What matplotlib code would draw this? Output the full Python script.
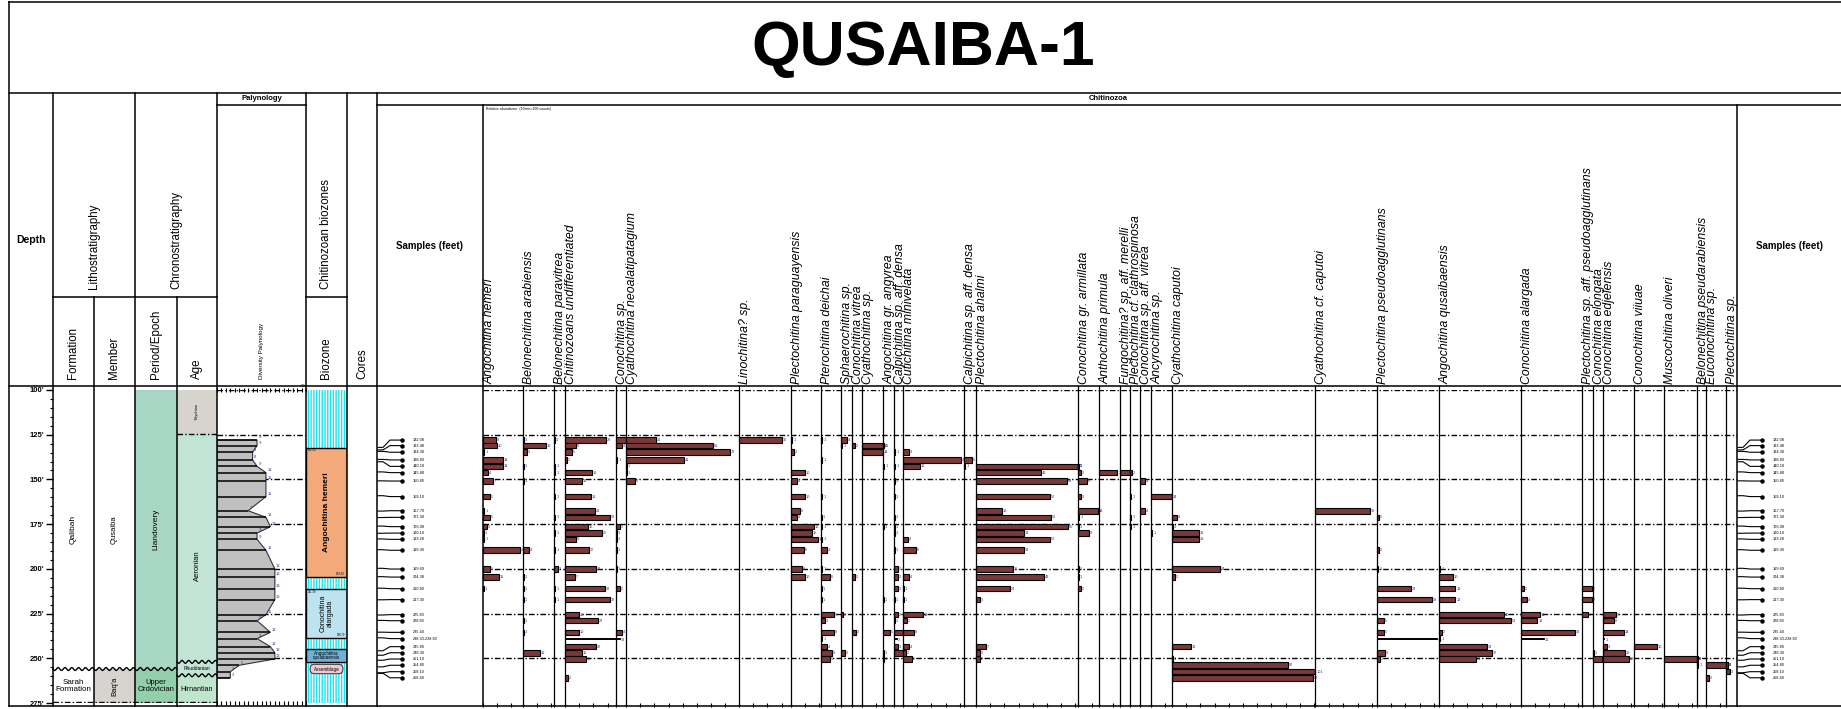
import numpy as np
import matplotlib
matplotlib.use("Agg")
import matplotlib.pyplot as plt
from matplotlib.patches import Rectangle, Polygon, FancyBboxPatch
from matplotlib.ticker import MultipleLocator

plt.rcParams['font.family'] = ['Liberation Sans', 'DejaVu Sans']

# ---------------- data ----------------
sample_labels = ['132.08', '133.48', '134.30', '138.80', '140.10', '145.80', '150.80',
                 '159.10', '167.70', '171.30', '176.08', '180.10', '183.28', '189.30',
                 '199.69', '204.38', '210.80', '217.30', '225.80', '228.80', '235.40',
                 '238.30-238.80', '245.80', '248.30', '251.10', '254.80', '258.10', '258.40']
sample_depth = [132.08, 133.48, 134.30, 138.80, 140.10, 145.80, 150.80, 159.10, 167.70,
                171.30, 176.08, 180.10, 183.28, 189.30, 199.69, 204.38, 210.80, 217.30,
                225.80, 228.80, 235.40, 238.55, 245.80, 248.30, 251.10, 254.80, 258.10, 258.40]
# depth at which each sample row is drawn (rows are spread apart on the chart)
row_depth = [128.0, 131.1, 134.8, 139.1, 142.7, 146.2, 150.9, 159.6, 167.5, 171.2, 176.4,
             180.0, 183.5, 189.6, 200.1, 204.6, 211.1, 217.2, 225.6, 229.0, 235.5, 239.0,
             243.5, 246.9, 250.4, 253.9, 257.5, 260.9]
diversity = [9, 9, 8, 8, 9, 11, 11, 11, 7, 11, 12, 9, 9, 11, 13, 13, 13, 13, 11, 9, 12, 9,
             12, 13, 13, 5, 3, 3]

depth_ticks = [100, 125, 150, 175, 200, 225, 250, 275]

species = ['Angochitina hemeri', 'Belonechitina arabiensis', 'Belonechitina paravitrea',
           'Chitinozoans undifferentiated', 'Conochitina sp.', 'Cyathochitina neoalatipatagium',
           'Linochitina? sp.', 'Plectochitina paraguayensis', 'Pterochitina deichai',
           'Sphaerochitina sp.', 'Conochitina vitrea', 'Cyathochitina sp.',
           'Angochitina gr. angyrea', 'Calpichitina sp. aff. densa', 'Cutichitina minivelata',
           'Calpichitina sp. aff. densa', 'Plectochitina ahalmi', 'Conochitina gr. armillata',
           'Anthochitina primula', 'Fungochitina? sp. aff. merelli',
           'Plectochitina cf. clathrospinosa', 'Conochitina sp. aff. vitrea', 'Ancyrochitina sp.',
           'Cyathochitina caputoi', 'Cyathochitina cf. caputoi', 'Plectochitina pseudoagglutinans',
           'Angochitina qusaibaensis', 'Conochitina alargada',
           'Plectochitina sp. aff. pseudoagglutinans', 'Conochitina elongata',
           'Conochitina edjelensis', 'Conochitina viiuae', 'Muscochitina oliveri',
           'Belonechitina pseudarabiensis', 'Euconochitina sp.', 'Plectochitina sp.']

# counts per species: {sample row: relative abundance}
counts = [
    {0: 9, 1: 10, 2: 1, 3: 14, 4: 14, 5: 3.5, 6: 7, 7: 5, 8: 1, 9: 5, 10: 3, 11: 0.6, 12: 1,
     13: 26, 14: 5, 15: 11, 16: 0.5},
    {0: 0.6, 1: 16, 2: 3, 4: 0.6, 6: 0.4, 13: 4, 15: 0.4, 16: 0.4, 17: 0.4, 19: 0.4, 20: 0.4,
     23: 12},
    {0: 0.6, 4: 1, 5: 1, 7: 1, 9: 1, 11: 1, 13: 1, 14: 3, 16: 1, 17: 1},
    {0: 29, 1: 8, 2: 5, 3: 1.5, 5: 19, 6: 12, 7: 18, 8: 21, 9: 32, 10: 16, 11: 26, 12: 8,
     13: 17, 14: 22, 15: 7, 16: 28, 17: 32, 18: 10, 19: 23, 20: 10, 22: 22, 23: 12, 24: 15,
     27: 2},
    {0: 7, 1: 4, 3: 1, 10: 3, 11: 0.7, 12: 0.7, 13: 0.7, 14: 0.7, 16: 2.5, 20: 4.5},
    {0: 21, 1: 61, 2: 73, 3: 41, 4: 0.5, 5: 0.5, 6: 6},
    {0: 30},
    {0: 1, 2: 2.3, 5: 10, 6: 4.5, 7: 10, 8: 6, 9: 4.5, 10: 16, 11: 15, 12: 19, 13: 9, 14: 8,
     15: 10},
    {0: 1, 3: 1, 7: 1, 9: 0.5, 10: 1, 12: 1, 13: 4, 14: 1, 15: 6, 16: 0.5, 17: 0.5, 18: 9,
     19: 3, 20: 9, 21: 1, 22: 4, 23: 8, 24: 6},
    {0: 4, 1: 1, 18: 1.5, 23: 3},
    {1: 2, 15: 2, 20: 2.5},
    {1: 14.5, 2: 14.5},
    {1: 1, 4: 1, 10: 0.5, 17: 0.5, 20: 5, 23: 0.5, 24: 0.5},
    {2: 1, 4: 1, 6: 0.7, 7: 0.7, 9: 0.7, 10: 0.7, 11: 0.7, 13: 0.7, 14: 2.5, 15: 2.5, 16: 3,
     17: 0.7, 18: 2.5, 19: 0.7, 20: 7, 22: 3, 23: 6},
    {2: 4, 3: 41, 4: 12, 12: 3.5, 13: 9, 15: 4.5, 16: 0.5, 17: 0.5, 18: 14, 19: 2.5, 20: 8,
     22: 4, 23: 2, 24: 6},
    {3: 5.5, 4: 1},
    {4: 72, 5: 46, 6: 64, 7: 52, 8: 18, 9: 53, 10: 65, 11: 34, 12: 52, 13: 34, 14: 26, 15: 48,
     16: 24, 17: 3, 22: 7, 23: 2.5, 24: 2.5},
    {4: 0.5, 5: 2.3, 6: 6, 7: 2.3, 8: 14.3, 9: 1, 10: 0.7, 11: 8, 14: 0.7, 15: 0.7, 16: 2.3},
    {5: 13},
    {5: 7},
    {5: 1.5, 7: 1, 9: 1, 10: 1},
    {6: 3.5, 8: 3.5},
    {7: 14.5, 11: 1},
    {9: 3.5, 10: 0.7, 11: 19, 12: 19, 14: 33.5, 15: 2.3, 22: 13.4, 24: 0.5, 25: 82, 26: 101,
     27: 99},
    {8: 38.5},
    {9: 1.5, 13: 1.5, 14: 1, 16: 24, 17: 39, 19: 4.7, 20: 4.7, 23: 5.6, 24: 2.3},
    {14: 1, 15: 10, 16: 11.5, 17: 11.5, 18: 46, 19: 51, 20: 2.3, 21: 1, 22: 34, 23: 37, 24: 26},
    {16: 2, 17: 4, 18: 13.6, 19: 11.5, 20: 38},
    {16: 7, 17: 7, 18: 4},
    {23: 0.5, 24: 6.6},
    {18: 9, 19: 8, 20: 14.5, 22: 3, 23: 15.7, 24: 18},
    {22: 16},
    {24: 23},
    {24: 0.5, 25: 1},
    {25: 14.5, 27: 2},
    {25: 1.5, 26: 2.6},
]
# the 238.30-238.80 range sample, drawn as thin open bars: {species index: count}
range_row = 21
range_counts = {3: 38.5, 13: 2, 25: 42, 27: 16, 30: 1}

formation_units = [('Qalibah', 100, 256), ('Sarah\nFormation', 256, 275)]
member_units = [('Qusaiba', 100, 256), ("Baq'a", 256, 275)]
period_units = [('Llandovery', 100, 256), ('Upper\nOrdovician', 256, 275)]
age_units = [('Telychian', 100, 124.5), ('Aeronian', 124.5, 252), ('Rhuddanian', 252, 259.5),
             ('Hirnantian', 259.5, 275)]
biozones = [('Angochitina hemeri', 132.2, 204.3), ('Conochitina\nalargada', 211.3, 238.7),
            ('Angochitina\nqusaibaensis', 244.8, 252.2), ('Assemblage', 253.4, 258.6)]

# ---------------- layout ----------------
W, H = 1841, 709
TOP, BOT = 390, 703            # pixel rows of 100 ft and 275 ft
HEAD_TOP, HEAD_ROW, HEAD_MID, HEAD_BOT, FRAME_BOT = 93, 105, 297, 386, 706
SCALE = 1.42                   # pixels per count in the chitinozoa columns
col_x = [9, 53, 94, 135, 177, 217, 306, 347, 377, 483]
chit_x = [483, 523, 554, 565, 616, 626, 739, 791, 821, 841, 852, 862, 883, 894, 903, 964,
          976, 1078, 1099, 1120, 1130, 1140, 1151, 1172, 1315, 1377, 1439, 1521, 1582, 1593,
          1603, 1634, 1664, 1697, 1706, 1726, 1737]
BAR = '#7b3838'
LABEL_C = '#2b3c96'
grid_style = dict(colors='black', linewidth=1.0, linestyles=[(0, (4, 1.6, 1, 1.6))])

fig = plt.figure(figsize=(W / 100, H / 100), dpi=100)


def add_ax(x0, x1, y0=TOP, y1=BOT, z=0):
    return fig.add_axes([x0 / W, 1 - y1 / H, (x1 - x0) / W, (y1 - y0) / H], zorder=z)


def depth_ax(x0, x1, xmax=1.0):
    ax = add_ax(x0, x1)
    ax.set_xlim(0, xmax)
    ax.set_ylim(275, 100)
    ax.set_axis_off()
    return ax


def wavy(ax, depth, xmax=1.0, n=6):
    xx = np.linspace(0, xmax, 200)
    ax.plot(xx, depth + 0.8 * np.sin(2 * np.pi * n * xx / xmax), color='black', lw=1.0,
            zorder=4, clip_on=False)


# depth scale
dax = add_ax(53, 54)
dax.set_ylim(275, 100)
dax.set_frame_on(False)
dax.xaxis.set_visible(False)
dax.set_yticks(depth_ticks)
dax.set_yticklabels([f"{d}'" for d in depth_ticks], fontsize=5.5, fontweight='bold')
dax.yaxis.set_minor_locator(MultipleLocator(5))
dax.tick_params(axis='y', which='major', length=5, width=1.0, pad=1)
dax.tick_params(axis='y', which='minor', length=2.5, width=0.8)

# lithostratigraphy / chronostratigraphy
fax = depth_ax(53, 94)
for name, top, base in formation_units:
    rot = 90 if base - top > 50 else 0
    fax.text(0.5, (top + base) / 2, name, rotation=rot, ha='center', va='center',
             fontsize=6 if rot else 5.8, linespacing=0.9)
wavy(fax, 256, n=6)

max_ = depth_ax(94, 135)
for (name, top, base), fc in zip(member_units, ['white', '#d7d3cd']):
    max_.add_patch(Rectangle((0, top), 1, base - top, facecolor=fc, lw=0))
    max_.text(0.5, (top + base) / 2, name, rotation=90, ha='center', va='center', fontsize=5.5)
wavy(max_, 256, n=6)

pex = depth_ax(135, 177)
for (name, top, base), fc in zip(period_units, ['#a8d6c5', '#93cfaa']):
    pex.add_patch(Rectangle((0, top), 1, base - top, facecolor=fc, lw=0))
    rot = 90 if base - top > 50 else 0
    pex.text(0.5, (top + base) / 2, name, rotation=rot, ha='center', va='center',
             fontsize=6 if rot else 5.5, linespacing=0.9)
wavy(pex, 256, n=6)

aex = depth_ax(177, 217)
for (name, top, base), fc in zip(age_units, ['#d7d3cd', '#c1e4d6', '#c4e6d8', '#bfe6cd']):
    aex.add_patch(Rectangle((0, top), 1, base - top, facecolor=fc, lw=0))
    if base - top > 20:
        aex.text(0.5, (top + base) / 2 + (10 if name == 'Aeronian' else 0), name, rotation=90,
                 ha='center', va='center', fontsize=5.5 if name == 'Aeronian' else 3)
    else:
        aex.text(0.5, (top + base) / 2, name, ha='center', va='center',
                 fontsize=3.5 if base - top < 10 else 5)
aex.hlines([124.5], 0, 1, **grid_style)
wavy(aex, 252, n=6)
wavy(aex, 259.5, n=6)
strat = depth_ax(53, 217)
strat.hlines([274.2], 0, 1, **grid_style)

# palynology diversity
pax = add_ax(217, 306)
pax.set_xlim(0, 20)
pax.set_ylim(275, 100)
pax.set_frame_on(False)
pax.yaxis.set_visible(False)
pax.xaxis.set_ticks_position('both')
pax.set_xticks(range(0, 21))
pax.tick_params(axis='x', which='both', direction='inout', length=3, width=0.8,
                labelbottom=False, labeltop=False)
pax.hlines(depth_ticks[:-1], 0, 20, zorder=0, **grid_style)
verts = [(0, row_depth[0])] + list(zip(diversity, row_depth)) + [(0, row_depth[-1])]
pax.add_patch(Polygon(verts, closed=True, facecolor='#c0c0c0', edgecolor='#333333', lw=0.8,
                      zorder=2))
pax.hlines(row_depth, 0, diversity, colors='black', lw=1.1, zorder=3)
for d, rd in zip(diversity, row_depth):
    pax.text(d + 0.3, rd - 0.4, str(d), fontsize=3, color=LABEL_C, va='bottom', zorder=4)

# chitinozoan biozones
bax = depth_ax(306, 347)
bax.add_patch(Rectangle((0.03, 100), 0.94, 175, facecolor='#1fe4ee', edgecolor='white',
                        hatch='||||||', lw=0))
zone_fc = ['#f4a97b', '#bde3f0', '#6fb0d6', '#f3c7d2']
for i, ((name, top, base), fc) in enumerate(zip(biozones, zone_fc)):
    if i < 3:
        bax.add_patch(Rectangle((0, top), 1, base - top, facecolor=fc, edgecolor='black', lw=1.0))
    else:
        bax.add_patch(FancyBboxPatch((0.1, top), 0.8, base - top,
                                     boxstyle='round,pad=0,rounding_size=0.1',
                                     mutation_aspect=25, facecolor=fc, edgecolor='#444444',
                                     lw=0.8))
    if base - top > 20:
        bax.text(0.5, (top + base) / 2, name, rotation=90, ha='center', va='center',
                 fontsize=6 if i == 0 else 5, fontweight='bold' if i == 0 else 'normal',
                 linespacing=0.9)
        bax.text(0.05, top + 0.4, f'{top:.2f}', fontsize=2, va='top')
        bax.text(0.95, base - 0.4, f'{base:.2f}', fontsize=2, va='bottom', ha='right')
    else:
        bax.text(0.5, (top + base) / 2, name, ha='center', va='center', fontsize=3.3,
                 linespacing=0.85)


# samples columns
def draw_samples(x0):
    sx = depth_ax(x0, x0 + 104, 104)
    for lab, dt, dp in zip(sample_labels, sample_depth, row_depth):
        sx.plot([1, 6, 13, 25], [dt, dt, dp, dp], color='black', lw=0.8, clip_on=False)
        sx.plot(25, dp, 'o', ms=2.2, color='black', clip_on=False)
        sx.text(36, dp, lab, fontsize=2.8, va='center')


draw_samples(377)
draw_samples(1737)

# chitinozoa panel grid
panel = depth_ax(483, 1737)
panel.hlines(depth_ticks[:-1], 0, 1, **grid_style)

for i, (name, data) in enumerate(zip(species, counts)):
    x0, x1 = chit_x[i], chit_x[i + 1]
    xmax = (x1 - x0) / SCALE
    ax = add_ax(x0, x1)
    ax.set_xlim(0, xmax)
    ax.set_ylim(275, 100)
    ax.set_frame_on(False)
    ax.yaxis.set_visible(False)
    ax.set_xticks(np.arange(0, xmax, 10))
    ax.tick_params(axis='x', direction='out', length=3, width=0.8, labelbottom=False)
    rows = list(data.keys())
    vals = list(data.values())
    ax.barh([row_depth[r] for r in rows], vals, height=3.1, color=BAR, edgecolor='black',
            lw=0.8, clip_on=False, zorder=3)
    for r, v in data.items():
        ax.text(v + 0.6, row_depth[r], str(max(1, int(round(v)))), fontsize=2.8,
                color=LABEL_C, va='center', clip_on=False, zorder=4)
    if i in range_counts:
        v = range_counts[i]
        ax.barh([row_depth[range_row]], [v], height=0.7, color='white', edgecolor='black',
                lw=0.7, clip_on=False, zorder=3)
        ax.text(v + 0.6, row_depth[range_row] + 1.0, str(int(round(v))), fontsize=2.8,
                color=LABEL_C, va='center', clip_on=False, zorder=4)

# ---------------- frame, headers and titles ----------------
frame = add_ax(0, W, 0, H, z=5)
frame.set_xlim(0, W)
frame.set_ylim(H, 0)
frame.set_axis_off()
lw = 1.1
for y, xa, xb in [(2, 9, W), (HEAD_TOP, 9, W), (HEAD_ROW, 217, 306), (HEAD_ROW, 377, W),
                  (HEAD_MID, 53, 217), (HEAD_MID, 306, 347), (HEAD_BOT, 9, W),
                  (FRAME_BOT, 9, W)]:
    frame.plot([xa, xb], [y, y], color='black', lw=lw)
for x, ya in [(9, 2), (53, HEAD_TOP), (94, HEAD_MID), (135, HEAD_TOP), (177, HEAD_MID),
              (217, HEAD_TOP), (306, HEAD_TOP), (347, HEAD_TOP), (377, HEAD_TOP),
              (483, HEAD_ROW), (1737, HEAD_ROW)]:
    frame.plot([x, x], [ya, FRAME_BOT], color='black', lw=lw)
for x in chit_x[1:-1]:
    frame.plot([x, x], [HEAD_BOT, FRAME_BOT], color='black', lw=0.9)

frame.text(923, 49, 'QUSAIBA-1', fontsize=45, fontweight='bold', ha='center', va='center')

frame.text(31, 240, 'Depth', fontsize=7.5, fontweight='bold', ha='center', va='center')
for x, txt in [(94, 'Lithostratigraphy'), (176, 'Chronostratigraphy'),
               (326.5, 'Chitinozoan biozones')]:
    frame.text(x, 289, txt, rotation=90, fontsize=8.3, ha='center', va='bottom')
for x, txt in [(73.5, 'Formation'), (114.5, 'Member'), (156, 'Period/Epoch'), (197, 'Age'),
               (326.5, 'Biozone'), (362, 'Cores')]:
    frame.text(x, 379, txt, rotation=90, fontsize=8.3, ha='center', va='bottom')
frame.text(261.5, 379, 'Diversity Palynology', rotation=90, fontsize=4.5, ha='center',
           va='bottom')
frame.text(303, 388, '20', fontsize=3, ha='center', va='bottom')
frame.text(261.5, 99, 'Palynology', fontsize=5.5, fontweight='bold', ha='center', va='center')
frame.text(1108, 99, 'Chitinozoa', fontsize=5.5, fontweight='bold', ha='center', va='center')
frame.text(486, 107, 'Relative abundance  (10mm=100 counts)', fontsize=2.5, ha='left', va='top')
frame.text(430, 246, 'Samples (feet)', fontsize=7, fontweight='bold', ha='center', va='center')
frame.text(1790, 246, 'Samples (feet)', fontsize=7, fontweight='bold', ha='center',
           va='center')

for i, name in enumerate(species):
    frame.text(chit_x[i] + 0.5, HEAD_BOT - 2, name, rotation=90, style='italic', fontsize=8.8,
               ha='left', va='bottom')

fig.savefig('out.png', dpi=100)
